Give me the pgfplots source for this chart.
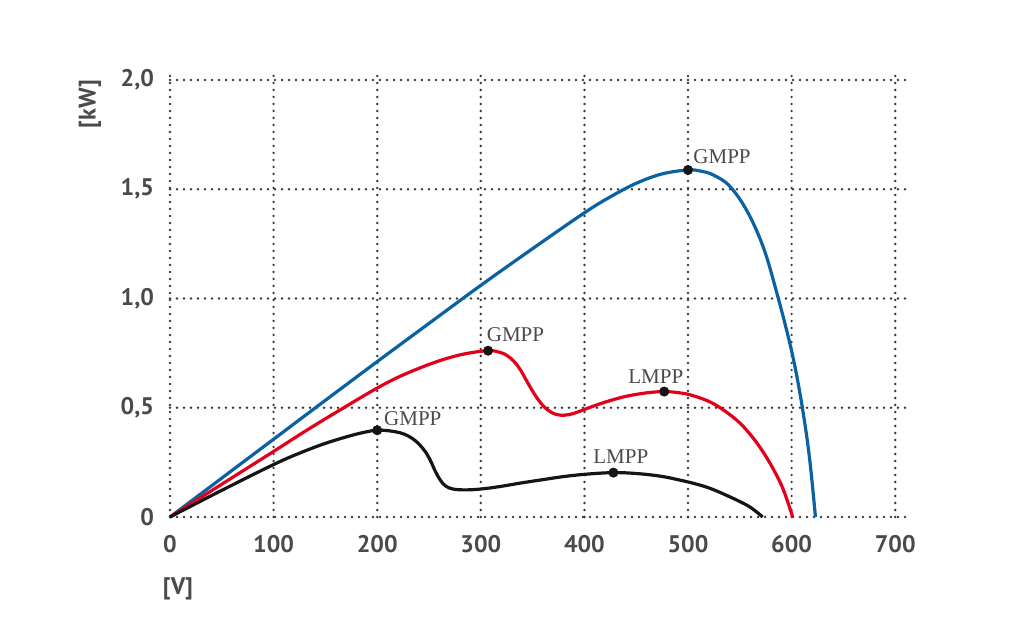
\documentclass[border=0pt]{standalone}
\usepackage{fontspec}
\setmainfont{Liberation Serif}
\newfontfamily\ticksans{PT Sans}
\usepackage{pgfplots}
\pgfplotsset{compat=1.18}

\definecolor{curveblue}{HTML}{0A62A3}
\definecolor{curvered}{HTML}{E2001A}
\definecolor{curveblack}{HTML}{151515}
\definecolor{txtgray}{HTML}{4A4A4A}
\definecolor{dotgray}{HTML}{3A3A3A}

\begin{document}
\begin{tikzpicture}
\path[use as bounding box] (-85pt,-56.5pt) rectangle (427pt,258.5pt);
\begin{axis}[
    at={(0,0)}, anchor=south west,
    scale only axis,
    width=367.8pt, height=222.9pt,
    xmin=0, xmax=710, ymin=0, ymax=2.04,
    enlargelimits=false,
    clip=false,
    axis line style={draw=none},
    major tick length=0pt,
    xtick={0,100,...,700},
    xticklabels={0,100,200,300,400,500,600,700},
    ytick={0,0.5,1,1.5,2},
    yticklabels={0,{0,5},{1,0},{1,5},{2,0}},
    ticklabel style={font=\ticksans\bfseries\fontsize{12}{14}\selectfont, text=txtgray},
    xticklabel style={yshift=-5.5pt},
    yticklabel style={xshift=-4.5pt},
    grid=major,
    major grid style={dotgray, line width=1.35pt, line cap=round, dash pattern=on 0pt off 3.5pt},
    curve/.style={line width=1.6pt, smooth, tension=0.6, mark=none},
]
% blue curve
\addplot[curve, curveblue] coordinates {
  (0,0) (50,0.178) (100,0.356) (150,0.534) (200,0.711) (250,0.886)
  (300,1.06) (350,1.228) (400,1.392) (425,1.465) (450,1.527) (475,1.57)
  (500,1.588) (512,1.583) (524,1.566) (540,1.515) (557,1.40) (573,1.23)
  (586,1.02) (598,0.80) (606,0.62) (613,0.42) (618,0.24) (623,0)
};
% red curve
\addplot[curve, curvered] coordinates {
  (0,0) (50,0.15) (100,0.30) (133,0.40) (166,0.495) (200,0.59) (225,0.65)
  (257,0.71) (283,0.745) (307,0.761) (318,0.754) (325,0.74) (332,0.712)
  (338,0.675) (344,0.625) (351,0.568) (357,0.527) (362,0.50) (368,0.479)
  (374,0.468) (381,0.466) (389,0.473) (400,0.492) (409,0.508) (425,0.533)
  (441,0.553) (460,0.568) (477,0.574) (492,0.568) (505,0.555) (524,0.52)
  (544,0.455) (557,0.395) (570,0.315) (582,0.222) (592,0.125) (601,0)
};
% black curve
\addplot[curve, curveblack] coordinates {
  (0,0) (50,0.122) (100,0.24) (125,0.292) (150,0.337) (175,0.373)
  (190,0.39) (200,0.397) (212,0.394) (225,0.381) (236,0.352) (245,0.308)
  (251,0.262) (256,0.21) (261,0.168) (266,0.142) (273,0.128) (285,0.124)
  (300,0.128) (318,0.139) (338,0.155) (360,0.171) (380,0.185) (402,0.196)
  (428,0.203) (450,0.199) (473,0.187) (492,0.169) (510,0.148) (524,0.126)
  (545,0.082) (560,0.045) (572,0)
};
% maximum power points
\addplot[only marks, mark=*, mark size=2.3pt, color=curveblack] coordinates {
  (500,1.588) (307,0.761) (477,0.574) (200,0.397) (428,0.203)
};

\begin{scope}[every node/.style={inner sep=0pt, text=txtgray, font=\fontsize{10.5}{12}\selectfont}]
\node[anchor=base west, xshift=2.5pt, yshift=3.3pt] at (axis cs:500,1.588) {GMPP};
\node[anchor=base west, xshift=-0.8pt, yshift=4.5pt] at (axis cs:307,0.761) {GMPP};
\node[anchor=base west, xshift=3.3pt, yshift=2.5pt] at (axis cs:200,0.397) {GMPP};
\node[anchor=base, xshift=-4.2pt, yshift=4.2pt] at (axis cs:477,0.574) {LMPP};
\node[anchor=base, xshift=3.7pt, yshift=4.7pt] at (axis cs:428,0.203) {LMPP};
\end{scope}
\end{axis}
\node[rotate=90, text=txtgray, font=\ticksans\bfseries\fontsize{12}{14}\selectfont] at (-40pt,206.5pt) {[kW]};
\node[text=txtgray, font=\ticksans\bfseries\fontsize{12}{14}\selectfont] at (4pt,-36pt) {[V]};
\end{tikzpicture}
\end{document}
